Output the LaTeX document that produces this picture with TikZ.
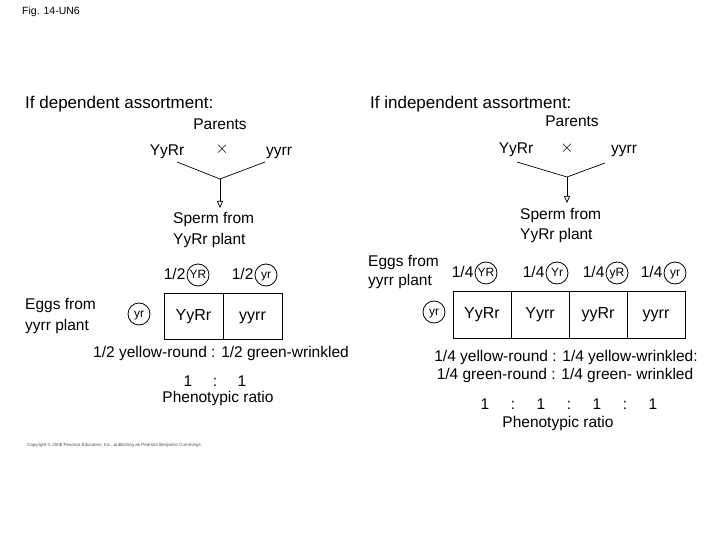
\documentclass[tikz,border=0pt]{standalone}
\usepackage{fontspec}
\setmainfont{Liberation Sans}
\usetikzlibrary{arrows.meta}
\begin{document}
\begin{tikzpicture}[x=1pt,y=-1pt,
  hand/.style={font=\fontsize{15.5}{17}\selectfont, inner sep=0pt, text height=11pt, text depth=3pt},
  headtxt/.style={font=\fontsize{17}{19}\selectfont, inner sep=0pt, anchor=west, text height=12pt, text depth=4pt},
  crossmark/.style={font=\fontsize{16}{18}\selectfont, inner sep=0pt},
  gam/.style={draw, circle, line width=0.8pt, minimum size=22pt, inner sep=0pt, font=\fontsize{12}{13}\selectfont, text height=8.5pt, text depth=2.5pt},
  cell/.style={draw, line width=0.8pt, minimum width=59pt, minimum height=46pt, inner sep=0pt, font=\fontsize{16}{18}\selectfont, text height=11.5pt, text depth=3.5pt},
  cellb/.style={cell, minimum width=58pt, minimum height=47pt},
  conn/.style={line width=0.7pt},
  arr/.style={line width=0.7pt, -{Triangle[open, length=7pt, width=6pt]}}]
\useasboundingbox (0,0) rectangle (720,540);

% title
\node[anchor=west, inner sep=0pt, font=\fontsize{10.5}{12}\selectfont] (title) at (22,12) {Fig. 14-UN6};

% ===== left panel =====
\node[headtxt] (lhead) at (25,105) {If dependent assortment:};
\node[hand] (lpar) at (220,126) {Parents};
\node[hand] (lp1) at (167,152) {YyRr};
\node[crossmark] (lx) at (222,149) {$\times$};
\node[hand] (lp2) at (279,152) {yyrr};
\coordinate (lv) at (220,179);
\coordinate (la) at (177,162);
\coordinate (lb) at (265,162);
\coordinate (le) at (220,208);
\draw[conn] (la) -- (lv) -- (lb);
\draw[arr] (lv) -- (le);
\node[hand, anchor=west] (lsp1) at (173,219) {Sperm from};
\node[hand, anchor=west] (lsp2) at (173,240) {YyRr plant};

\node[gam] (lg1) at (198,275) {YR};
\node[hand, anchor=east] (lf1) at ([xshift=-1pt]lg1.west) {1/2};
\node[gam] (lg2) at (266,275) {yr};
\node[hand, anchor=east] (lf2) at ([xshift=-1pt]lg2.west) {1/2};

\node[cell] (lc1) at (193.5,316) {YyRr};
\node[cell] (lc2) at (252.5,316) {yyrr};
\node[gam] (lge) at (139,314) {yr};
\node[hand, anchor=west] (legg1) at (25,305) {Eggs from};
\node[hand, anchor=west] (legg2) at (25,326) {yyrr plant};

\node[hand] (lres) at (221,353) {1/2 yellow-round : 1/2 green-wrinkled};
\node[hand] (lrat) at (215,382) {\makebox[27pt]{1}\makebox[27pt]{:}\makebox[27pt]{1}};
\node[hand] (lphen) at (218,398) {Phenotypic ratio};

% ===== right panel =====
\node[headtxt] (rhead) at (370,105) {If independent assortment:};
\node[hand] (rpar) at (572,123) {Parents};
\node[hand] (rp1) at (516,150) {YyRr};
\node[crossmark] (rx) at (567,148) {$\times$};
\node[hand] (rp2) at (624,150) {yyrr};
\coordinate (rv) at (567,177);
\coordinate (ra) at (517,162);
\coordinate (rb) at (605,163);
\coordinate (re) at (567,203);
\draw[conn] (ra) -- (rv) -- (rb);
\draw[arr] (rv) -- (re);
\node[hand, anchor=west] (rsp1) at (520,215) {Sperm from};
\node[hand, anchor=west] (rsp2) at (520,236) {YyRr plant};

\node[hand, anchor=west] (regg1) at (368,262) {Eggs from};
\node[hand, anchor=west] (regg2) at (368,281) {yyrr plant};

\node[gam] (rg1) at (486,273) {YR};
\node[hand, anchor=east] (rf1) at ([xshift=-1pt]rg1.west) {1/4};
\node[gam] (rg2) at (557,273) {Yr};
\node[hand, anchor=east] (rf2) at ([xshift=-1pt]rg2.west) {1/4};
\node[gam] (rg3) at (617,273) {yR};
\node[hand, anchor=east] (rf3) at ([xshift=-1pt]rg3.west) {1/4};
\node[gam] (rg4) at (675,273) {yr};
\node[hand, anchor=east] (rf4) at ([xshift=-1pt]rg4.west) {1/4};

\node[cellb] (rc1) at (482,314.5) {YyRr};
\node[cellb] (rc2) at (540,314.5) {Yyrr};
\node[cellb] (rc3) at (598,314.5) {yyRr};
\node[cellb] (rc4) at (656,314.5) {yyrr};
\node[gam] (rge) at (434,312) {yr};

\node[hand] (rres1) at (566,357) {1/4 yellow-round : 1/4 yellow-wrinkled:};
\node[hand] (rres2) at (565,375) {1/4 green-round : 1/4 green- wrinkled};
\node[hand] (rrat) at (569,405) {\makebox[28pt]{1}\makebox[28pt]{:}\makebox[28pt]{1}\makebox[28pt]{:}\makebox[28pt]{1}\makebox[28pt]{:}\makebox[28pt]{1}};
\node[hand] (rphen) at (558,423) {Phenotypic ratio};

% copyright
\node[anchor=west, inner sep=0pt, font=\fontsize{4.5}{5}\selectfont, text=black!70] (copy) at (27,445) {Copyright \textcopyright{} 2008 Pearson Education, Inc., publishing as Pearson Benjamin Cummings.};
\end{tikzpicture}
\end{document}
